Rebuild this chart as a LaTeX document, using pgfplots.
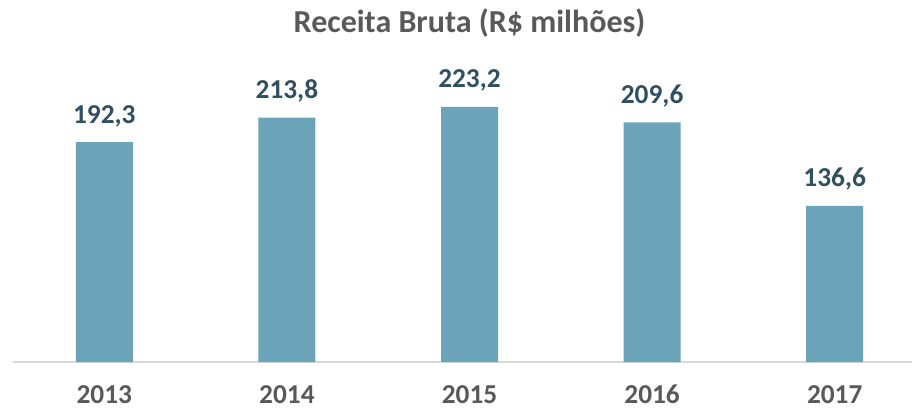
\documentclass[border=0pt]{standalone}
\usepackage{fontspec}
\setmainfont{Carlito}
\usepackage{pgfplots}
\pgfplotsset{compat=1.18}
\definecolor{barcol}{HTML}{6BA3B8}
\definecolor{valcol}{HTML}{2E5061}
\definecolor{txtcol}{HTML}{595959}
\definecolor{axcol}{HTML}{D9D9D9}
\begin{document}
\begin{tikzpicture}[x=1pt,y=1pt]
% page = 912x408 px at 0.75pt per px
\useasboundingbox (0,0) rectangle (684,306);
\begin{axis}[
  at={(9.75pt,34.5pt)},anchor=south west,
  scale only axis,
  width=684.75pt,height=214.3pt,
  xmin=-0.5,xmax=4.5,ymin=0,ymax=250,
  axis x line*=bottom,
  axis y line=none,
  axis line style={draw=axcol,line width=1.1pt},
  xtick={0,1,2,3,4},
  xticklabels={2013,2014,2015,2016,2017},
  major tick length=0pt,
  xticklabel style={font=\fontsize{20.5}{24}\selectfont\bfseries,text=txtcol,anchor=base,yshift=-30.75pt},
  ybar,bar width=42.75pt,
  nodes near coords,
  nodes near coords style={font=\fontsize{20.5}{24}\selectfont\bfseries,text=valcol,anchor=base,yshift=14.25pt,
    /pgf/number format/.cd,fixed,fixed zerofill,precision=1,use comma,assume math mode=true},
  every axis title shift=0pt,
  title={Receita Bruta (R\$ milhões)},
  title style={font=\fontsize{24}{28}\selectfont\bfseries,text=txtcol,at={(0.5,1)},anchor=base,yshift=32.5pt},
]
  \addplot[fill=barcol,draw=none] coordinates {(0,192.3) (1,213.8) (2,223.2) (3,209.6) (4,136.6)};
\end{axis}
\end{tikzpicture}
\end{document}
